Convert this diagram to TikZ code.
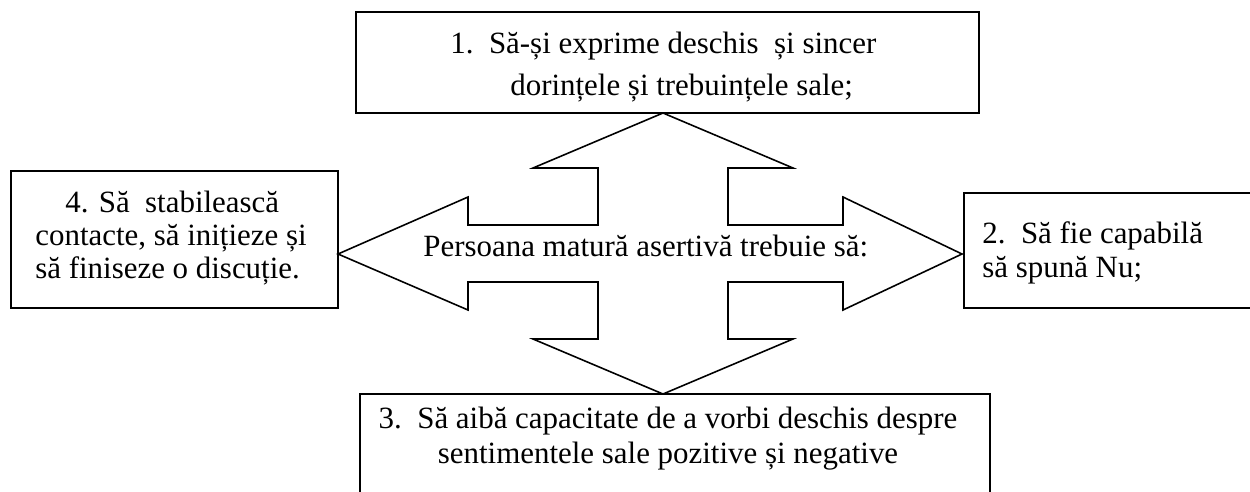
\documentclass[tikz,border=0pt]{standalone}
\usepackage{fontspec}
\setmainfont{Liberation Serif}
\usetikzlibrary{positioning}
\tikzset{
  card/.style   ={draw, line width=1pt, inner sep=0pt},
  cardtxt/.style={inner sep=0pt, align=left, font=\fontsize{17.6}{18.7}\selectfont},
  cross/.style  ={draw, line width=0.9pt, line join=miter},
}

\begin{document}
\begin{tikzpicture}[x=0.02cm,y=-0.02cm]
\useasboundingbox (0,0) rectangle (1250,491);
\clip (0,0) rectangle (1250,491);
% --- the four-way arrow in the middle ---
\draw[cross] (663,113) -- (793,168) -- (728,168) -- (728,225) -- (843,225)
  -- (843,197) -- (962,254) -- (843,310) -- (843,282) -- (728,282)
  -- (728,339) -- (793,339) -- (663,394) -- (533,339) -- (598,339)
  -- (598,282) -- (468,282) -- (468,310) -- (338,254) -- (468,197)
  -- (468,225) -- (598,225) -- (598,168) -- (533,168) -- cycle;
\node[cardtxt, anchor=base west] (stem) at (423,256) {Persoana matură asertivă trebuie să:};
% --- the four boxes ---
\node[card, minimum width=12.46cm, minimum height=2.02cm] (b1) at (667.5,62.5) {};
\node[card, minimum width=6.54cm, minimum height=2.74cm] (b4) at (174.5,239.5) {};
\node[card, anchor=west, minimum width=6.8cm, minimum height=2.3cm] (b2) at (963,250.5) {};
\node[card, minimum width=12.6cm, minimum height=2.12cm] (b3) at (675,447) {};
% --- their texts (base = last line) ---
\node[cardtxt, font=\fontsize{17.6}{23.8}\selectfont, anchor=base west] (t1) at (450,95)
  {1.\ \ Să-și exprime deschis\ \ și sincer\\\hspace*{1.2cm}dorințele și trebuințele sale;};
\node[cardtxt, anchor=base west] (t4) at (35,278)
  {\hspace*{0.6cm}4. Să\ \ stabilească\\contacte, să inițieze și\\să finiseze o discuție.};
\node[cardtxt, font=\fontsize{17.6}{19.3}\selectfont, anchor=base west] (t2) at (982,277)
  {2.\ \ Să fie capabilă\\să spună Nu;};
\node[cardtxt, align=center, font=\fontsize{17.6}{19.8}\selectfont, anchor=base] (t3) at (668,463)
  {3.\ \ Să aibă capacitate de a vorbi deschis despre\\sentimentele sale pozitive și negative};
\end{tikzpicture}
\end{document}
